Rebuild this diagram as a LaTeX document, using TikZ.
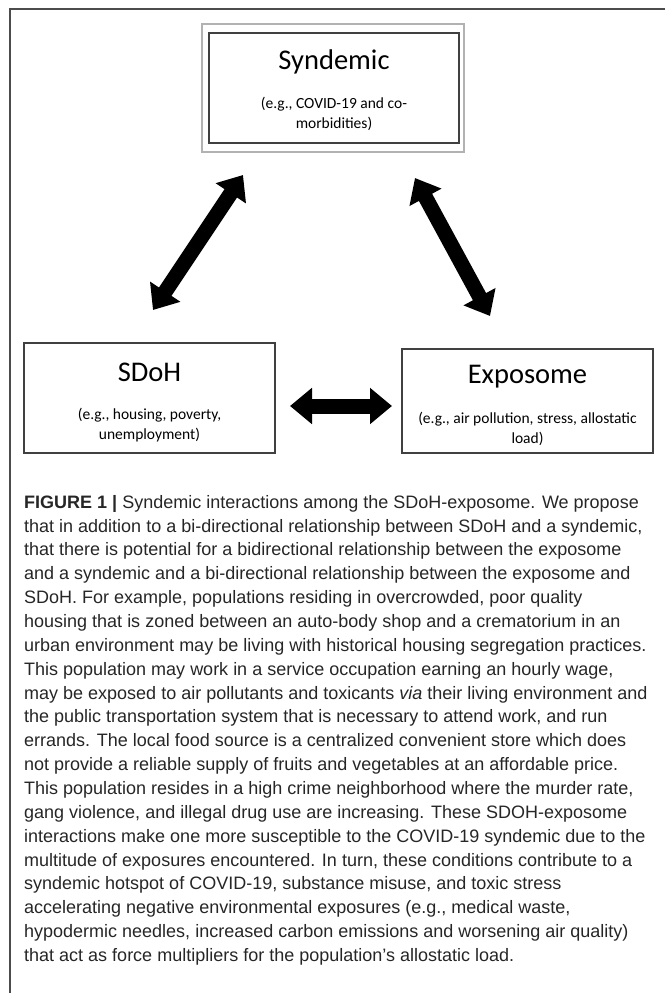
\documentclass[tikz,border=0pt]{standalone}
\usepackage{fontspec}
\setmainfont{Liberation Sans}
\newfontfamily\calibri{Carlito}
\usetikzlibrary{positioning,arrows.meta}

\begin{document}
\begin{tikzpicture}
    [%%%%%%%%%%%%%%%%%%%%%%%%%%%%%%
    x=1pt,y=-1pt,
    box/.style={rectangle,draw=black!75,line width=1.2pt,minimum width=251pt,minimum height=107pt},
    title/.style={font=\calibri\fontsize{28.5}{30}\selectfont},
    sub/.style={font=\calibri\fontsize{15.5}{20}\selectfont,align=center},
    dblarrow/.style={line width=15pt,{Triangle[width=35pt,length=22pt]}-{Triangle[width=35pt,length=22pt]}},
    ]%%%%%%%%%%%%%%%%%%%%%%%%%%%%%%

    \useasboundingbox (0,0) rectangle (665,993);
    \draw[black!70,line width=1.5pt] (665,9) -- (10,9) -- (10,993);

    % syndemic
    \node[box,draw=black!30,line width=2pt,minimum width=262pt,minimum height=128pt] at (333,88) (syn_frame){};
    \node[box,minimum width=250pt,minimum height=110pt] at (334,88) (syn){};
    \node[title] at (334,62) (syn_title) {Syndemic};
    \node[sub] at (334,114) (syn_text) {(e.g., COVID-19 and co-\\morbidities)};

    % sdoh
    \node[box,minimum height=110pt] at (149.5,398) (sdoh){};
    \node[title] at (149.5,372) (sdoh_title) {SDoH};
    \node[sub] at (149.5,425) (sdoh_text) {(e.g., housing, poverty,\\unemployment)};

    % exposome
    \node[box,minimum height=104pt] at (527.5,401) (expo){};
    \node[title] at (527.5,377) (expo_title) {Exposome};
    \node[sub] at (527.5,429) (expo_text) {(e.g., air pollution, stress, allostatic\\load)};

    % arrows
    \coordinate (syn_left) at (243,175);
    \coordinate (sdoh_top) at (153,310);
    \coordinate (syn_right) at (415,178);
    \coordinate (expo_top) at (490,316);
    \coordinate (sdoh_right) at (290,406);
    \coordinate (expo_left) at (392,406);
    \draw[dblarrow] (sdoh_top) -- (syn_left);
    \draw[dblarrow] (expo_top) -- (syn_right);
    \draw[dblarrow] (sdoh_right) -- (expo_left);

    % caption
    \node[anchor=north west,inner sep=0pt,align=left,text=black!85,font=\fontsize{18}{23.85}\selectfont] at (24,495) (caption) {%
\textbf{FIGURE 1 |} Syndemic interactions among the SDoH-exposome. We propose\\
that in addition to a bi-directional relationship between SDoH and a syndemic,\\
that there is potential for a bidirectional relationship between the exposome\\
and a syndemic and a bi-directional relationship between the exposome and\\
SDoH. For example, populations residing in overcrowded, poor quality\\
housing that is zoned between an auto-body shop and a crematorium in an\\
urban environment may be living with historical housing segregation practices.\\
This population may work in a service occupation earning an hourly wage,\\
may be exposed to air pollutants and toxicants \textit{via} their living environment and\\
the public transportation system that is necessary to attend work, and run\\
errands. The local food source is a centralized convenient store which does\\
not provide a reliable supply of fruits and vegetables at an affordable price.\\
This population resides in a high crime neighborhood where the murder rate,\\
gang violence, and illegal drug use are increasing. These SDOH-exposome\\
interactions make one more susceptible to the COVID-19 syndemic due to the\\
multitude of exposures encountered. In turn, these conditions contribute to a\\
syndemic hotspot of COVID-19, substance misuse, and toxic stress\\
accelerating negative environmental exposures (e.g., medical waste,\\
hypodermic needles, increased carbon emissions and worsening air quality)\\
that act as force multipliers for the population’s allostatic load.};
\end{tikzpicture}
\end{document}
